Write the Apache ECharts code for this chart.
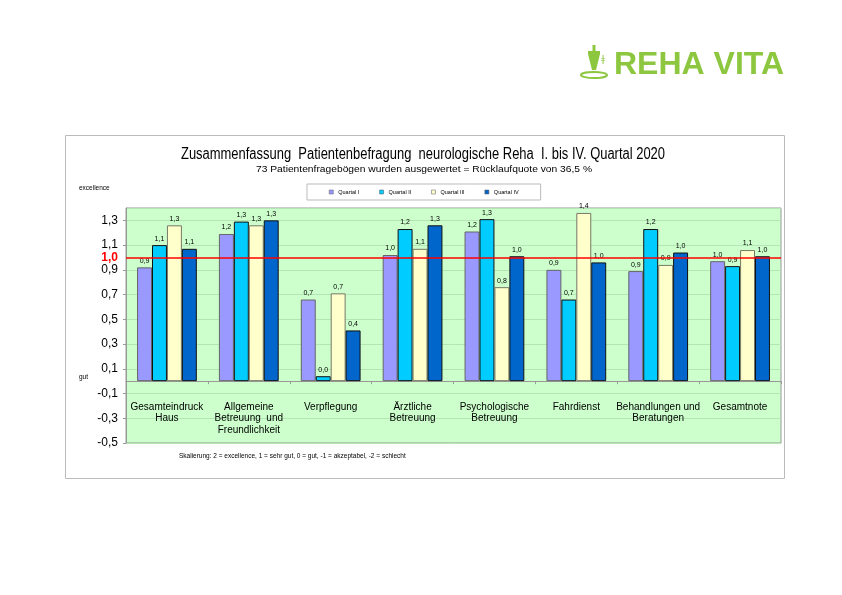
<!DOCTYPE html>
<html><head><meta charset="utf-8">
<script src="https://cdn.jsdelivr.net/npm/echarts@6/dist/echarts.min.js"></script>
<style>html,body{margin:0;padding:0;background:#fff}#c{width:842px;height:595px}</style>
</head><body><div id="c"></div>
<script>
const categories = ['Gesamteindruck\nHaus','Allgemeine\nBetreuung  und\nFreundlichkeit','Verpflegung','Ärztliche\nBetreuung','Psychologische\nBetreuung','Fahrdienst','Behandlungen und\nBeratungen','Gesamtnote'];
const seriesNames = ['Quartal I','Quartal II','Quartal III','Quartal IV'];
const q1 = [0.92,1.19,0.66,1.02,1.21,0.90,0.89,0.97];
const q2 = [1.10,1.29,0.04,1.23,1.31,0.66,1.23,0.93];
const q3 = [1.26,1.26,0.71,1.07,0.76,1.36,0.94,1.06];
const q4 = [1.07,1.30,0.41,1.26,1.01,0.96,1.04,1.01];
const referenceValue = 1.0;
const title = 'Zusammenfassung  Patientenbefragung  neurologische Reha  I. bis IV. Quartal 2020';
const subtitle = '73 Patientenfragebögen wurden ausgewertet = Rücklaufquote von 36,5 %';
const footer = 'Skalierung: 2 = excellence, 1 = sehr gut, 0 = gut, -1 = akzeptabel, -2 = schlecht';

const colors = ['#9999FF','#00CCFF','#FFFFCC','#0066CC'];
const borders = ['#666666','#111111','#777766','#111111'];
const fmt = v => (Math.round(v*10)/10).toFixed(1).replace('.', ',');
const lblFmt = p => p.value.toFixed(1).replace('.', ',');

// measure text to fit a condensed look
const mctx = document.createElement('canvas').getContext('2d');
function fitScale(text, font, target){ mctx.font = font; return target / mctx.measureText(text).width; }
const titleFont = '16px "Liberation Sans"';
const subFont = '9.5px "Liberation Sans"';
const titleScale = fitScale(title, titleFont, 484);
const subScale = fitScale(subtitle, subFont, 336);

const chart = echarts.init(document.getElementById('c'), null, {renderer:'canvas'});
const seriesData = [q1,q2,q3,q4];
const series = seriesData.map((d,i) => ({
  name: seriesNames[i], type: 'bar', data: d,
  barGap: '0%', barCategoryGap: '27%',
  itemStyle: {color: colors[i], borderColor: borders[i], borderWidth: 1},
  label: {show: true, position: 'top', distance: 3, fontSize: 7, color: '#000', fontFamily: 'Liberation Sans', formatter: lblFmt},
  z: 3
}));
series[0].markLine = {
  silent: true, symbol: 'none', z: 5,
  lineStyle: {color: '#FF0000', width: 1.5, type: 'solid'},
  label: {show: true, position: 'start', formatter: fmt(referenceValue), color: '#FF0000', fontWeight: 'bold', fontSize: 12, fontFamily: 'Liberation Sans', distance: 8},
  data: [{yAxis: referenceValue}]
};

chart.setOption({
  animation: false,
  backgroundColor: '#fff',
  color: colors,
  graphic: [
    {type:'rect', shape:{x:65.5,y:135.5,width:719,height:343}, style:{fill:'#fff', stroke:'#bbbbbb', lineWidth:1}, z:-10},
    {type:'text', x:423, y:155, scaleX:titleScale, style:{text:title, fill:'#000', font:titleFont, textAlign:'center', textVerticalAlign:'middle'}},
    {type:'text', x:424, y:169, scaleX:subScale, style:{text:subtitle, fill:'#000', font:subFont, textAlign:'center', textVerticalAlign:'middle'}},
    {type:'text', x:79, y:188, style:{text:'excellence', fill:'#000', font:'6.5px "Liberation Sans"', textVerticalAlign:'middle'}},
    {type:'text', x:79, y:377, style:{text:'gut', fill:'#000', font:'6.5px "Liberation Sans"', textVerticalAlign:'middle'}},
    {type:'text', x:179, y:456, style:{text:footer, fill:'#000', font:'6.5px "Liberation Sans"', textVerticalAlign:'middle'}},
    {type:'text', x:614, y:65, style:{text:'REHA VITA', fill:'#8DC63F', font:'bold 32px "Liberation Sans"', textVerticalAlign:'middle'}},
    {type:'group', x:594, y:64, children:[
      {type:'rect', shape:{x:-6,y:-13,width:12,height:3}, style:{fill:'#8DC63F'}},
      {type:'polygon', shape:{points:[[-6,-10],[6,-10],[2,6],[-2,6]]}, style:{fill:'#8DC63F'}},
      {type:'rect', shape:{x:-1.5,y:-19,width:3,height:7}, style:{fill:'#8DC63F'}},
      {type:'ellipse', shape:{cx:0,cy:11,rx:13,ry:3}, style:{fill:'none', stroke:'#8DC63F', lineWidth:2}},
      {type:'text', x:7, y:-9, style:{text:'ǂ', fill:'#8DC63F', font:'9px "DejaVu Sans"'}}
    ]}
  ],
  legend: {
    data: seriesNames, left: 307, top: 184,
    padding: [5, 22, 5, 22],
    borderColor: '#bbbbbb', borderWidth: 1, backgroundColor: '#fff',
    itemWidth: 4, itemHeight: 4, itemGap: 20, icon: 'rect',
    itemStyle: {borderColor: '#555', borderWidth: 0.5},
    textStyle: {fontSize: 5.5, color: '#000', fontFamily: 'Liberation Sans'},
    selectedMode: false
  },
  grid: {left: 126, right: 61, top: 208, bottom: 152, show: true, backgroundColor: '#CCFFCC', borderColor: '#999999', borderWidth: 1, containLabel: false},
  xAxis: {
    type: 'category', data: categories,
    axisLine: {onZero: true, lineStyle: {color: '#999999', width: 1}},
    axisTick: {show: true, length: 3, lineStyle: {color: '#999999'}},
    axisLabel: {interval: 0, margin: -42, fontSize: 10, lineHeight: 11.5, color: '#000', fontFamily: 'Liberation Sans', verticalAlign: 'top'}
  },
  yAxis: {
    type: 'value', min: -0.5, max: 1.4, interval: 0.2,
    axisLine: {show: true, lineStyle: {color: '#999999'}},
    axisTick: {show: true, length: 3, lineStyle: {color: '#999999'}},
    axisLabel: {showMaxLabel: false, formatter: fmt, fontSize: 12, color: '#000', margin: 8, fontFamily: 'Liberation Sans'},
    splitLine: {show: true, lineStyle: {color: '#B3E6B3', width: 1}}
  },
  series: series
});
</script></body></html>
